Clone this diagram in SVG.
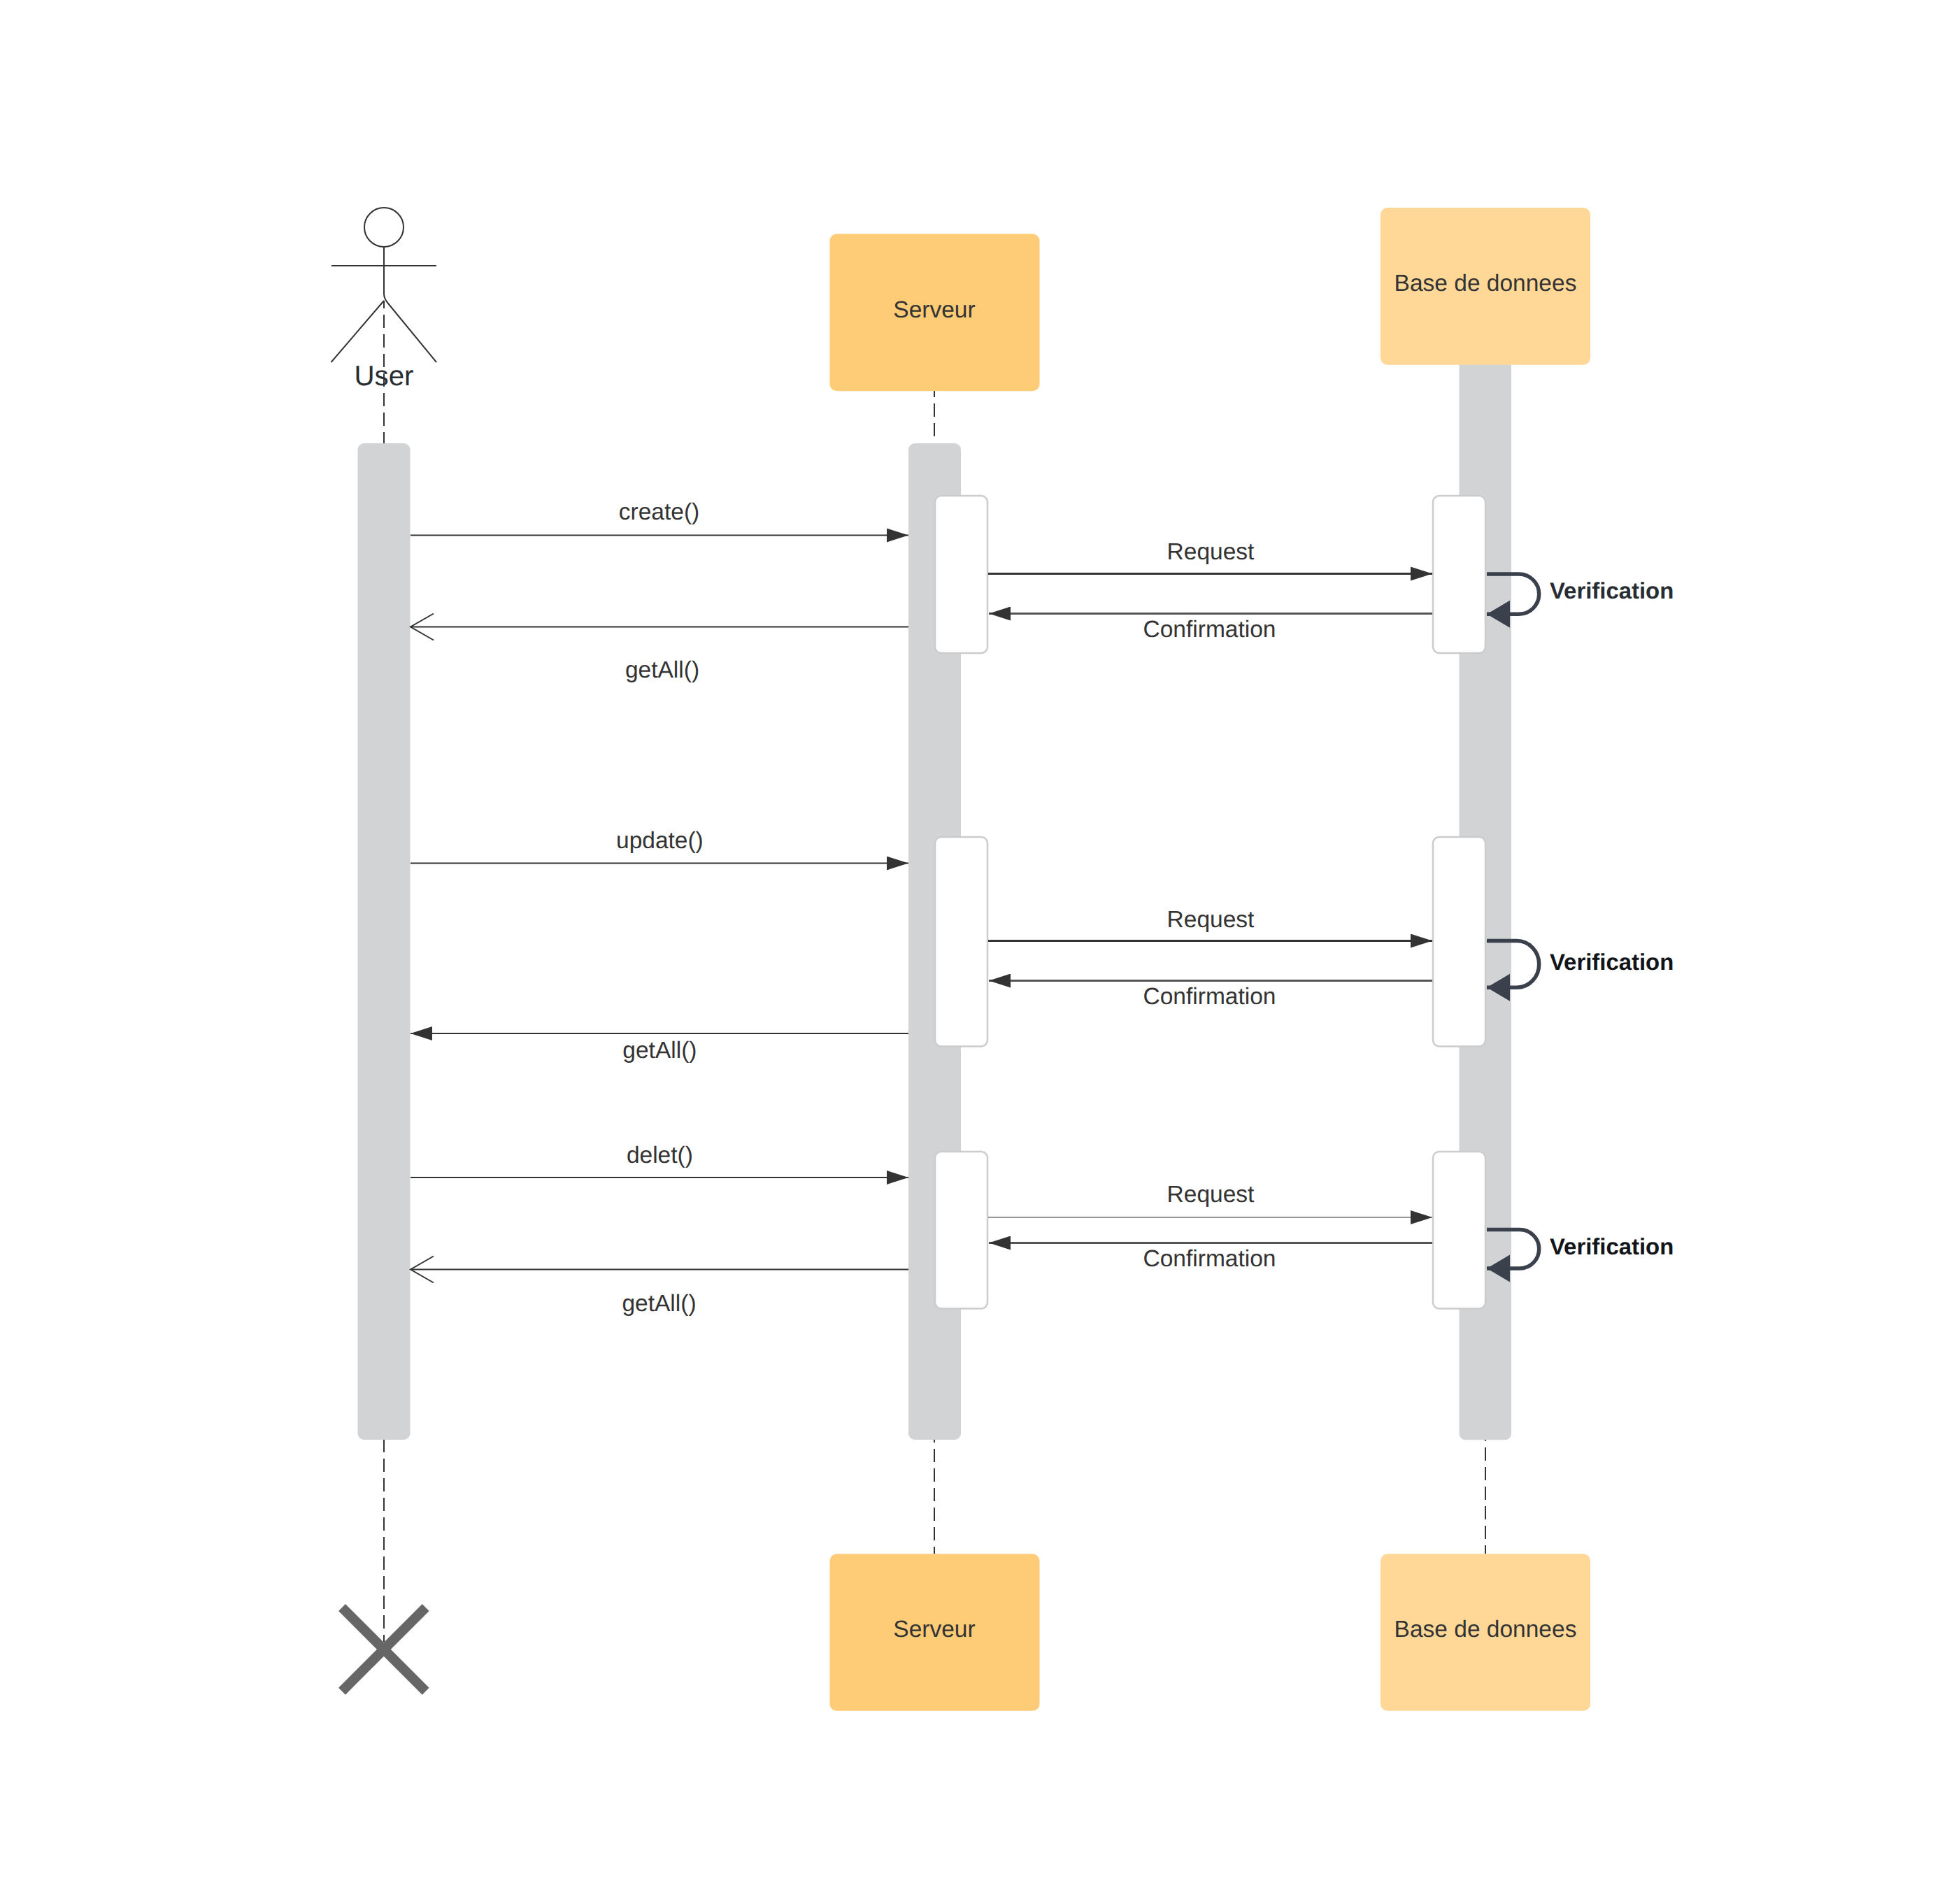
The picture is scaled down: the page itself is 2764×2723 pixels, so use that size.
<svg xmlns="http://www.w3.org/2000/svg" width="2764" height="2723" viewBox="0 0 2764 2723">
<style>
text{font-family:"Liberation Sans",Arial,sans-serif;font-size:33.5px;fill:#333;text-anchor:middle;text-rendering:geometricPrecision}
.bold{font-weight:700;font-size:32.9px;text-anchor:start;fill:#282c33}
.dark{fill:#111418}
.bar{fill:#d1d3d5}
.act{fill:#fff;stroke:#ccc;stroke-width:2.5}
.head1{fill:#fecb76}
.head2{fill:#ffd897}
.life{stroke:#333;stroke-width:2;stroke-dasharray:19 9;fill:none}
.msg{stroke:#333;stroke-width:2;fill:none}
.msgb{stroke:#333;stroke-width:3;fill:none}
.msgc{stroke:#555;stroke-width:3;fill:none}
.loop{stroke:#3a414c;stroke-width:5.5;fill:none}
.stick{stroke:#333;stroke-width:2;fill:none}
</style>
<defs>
<marker id="solidE" markerUnits="userSpaceOnUse" markerWidth="32" markerHeight="20" refX="31" refY="10" orient="auto"><path d="M0 0L31 10L0 20Z" fill="#333"/></marker>
<marker id="openE" markerUnits="userSpaceOnUse" markerWidth="36" markerHeight="42" refX="34" refY="21" orient="auto"><path d="M1 2L34 21L1 40" fill="none" stroke="#333" stroke-width="2"/></marker>
<marker id="loopE" markerUnits="userSpaceOnUse" markerWidth="34" markerHeight="40" refX="33" refY="20" orient="auto"><path d="M0 0.5L33 20L0 39.5Z" fill="#3a414c"/></marker>
</defs>
<rect width="2764" height="2723" fill="#fff"/>
<g id="lifelines">
<path class="life" style="stroke-dashoffset:8" d="M549 430V634"/>
<path class="life" style="stroke-dashoffset:1" d="M549 2059V2348"/>
<path class="life" style="stroke-dashoffset:10" d="M1336 559V625"/>
<path class="life" style="stroke-dashoffset:15" d="M1336 2059V2222"/>
<path class="life" style="stroke-dashoffset:17" d="M2124 2059V2222"/>
</g>
<g id="bar-user"><rect class="bar" x="511.5" y="634" width="75" height="1425" rx="9"/></g>
<g id="bar-server"><rect class="bar" x="1299" y="634" width="75" height="1425" rx="9"/></g>
<g id="bar-db"><rect class="bar" x="2086.5" y="500" width="74.5" height="1559.3" rx="9"/></g>
<g id="act-server-1"><rect class="act" x="1337" y="709" width="75" height="225" rx="9"/></g>
<g id="act-db-1"><rect class="act" x="2049" y="709" width="75" height="225" rx="9"/></g>
<g id="act-server-2"><rect class="act" x="1337" y="1197" width="75" height="299.5" rx="9"/></g>
<g id="act-db-2"><rect class="act" x="2049" y="1197" width="75" height="299.5" rx="9"/></g>
<g id="act-server-3"><rect class="act" x="1337" y="1647" width="75" height="224.5" rx="9"/></g>
<g id="act-db-3"><rect class="act" x="2049" y="1647" width="75" height="224.5" rx="9"/></g>
<g id="user">
<circle class="stick" cx="549" cy="325" r="28"/>
<path class="stick" d="M549 353V420Q549 427 555 434L624 518M549 430L473.5 518M474 380H624"/>
<text x="549" y="551" style="font-size:40.3px;fill:#282c33">User</text>
</g>
<g id="server-top"><rect class="head1" x="1186.5" y="334.5" width="300" height="224.7" rx="10"/><text x="1336" y="453.5">Serveur</text></g>
<g id="db-top"><rect class="head2" x="1974" y="297" width="300" height="224.7" rx="10"/><text x="2124" y="416">Base de donnees</text></g>
<g id="server-bottom"><rect class="head1" x="1186.5" y="2222.2" width="300" height="224.6" rx="10"/><text x="1336" y="2341">Serveur</text></g>
<g id="db-bottom"><rect class="head2" x="1974" y="2222.2" width="300" height="224.6" rx="10"/><text x="2124" y="2341">Base de donnees</text></g>
<g id="destroy"><path d="M489 2299L608.7 2418.7M608.7 2299L489 2418.7" stroke="#666" stroke-width="14" fill="none"/></g>
<g id="connectors">
<line class="msg" x1="587" y1="765.5" x2="1299" y2="765.5" marker-end="url(#solidE)"/>
<line class="msg" x1="1299" y1="896.5" x2="587" y2="896.5" marker-end="url(#openE)"/>
<line class="msgb" x1="1413" y1="820.5" x2="2048" y2="820.5" marker-end="url(#solidE)"/>
<line class="msgc" x1="2048" y1="877.5" x2="1414" y2="877.5" marker-end="url(#solidE)"/>
<path class="loop" d="M2126 821H2172A28.7 28.6 0 0 1 2172 878.2H2126" marker-end="url(#loopE)"/>
<line class="msg" x1="587" y1="1234.5" x2="1299" y2="1234.5" marker-end="url(#solidE)"/>
<line class="msgb" x1="1413" y1="1345.5" x2="2048" y2="1345.5" marker-end="url(#solidE)"/>
<line class="msgc" x1="2048" y1="1402.5" x2="1414" y2="1402.5" marker-end="url(#solidE)"/>
<path class="loop" d="M2126 1345.5H2169A31.7 33.4 0 0 1 2169 1412.3H2126" marker-end="url(#loopE)"/>
<line class="msg" x1="1299" y1="1478" x2="587" y2="1478" marker-end="url(#solidE)"/>
<line class="msg" x1="587" y1="1684" x2="1299" y2="1684" marker-end="url(#solidE)"/>
<line class="msg" style="stroke-width:1.2" x1="1413" y1="1741" x2="2048" y2="1741" marker-end="url(#solidE)"/>
<line class="msgc" x1="2048" y1="1777.5" x2="1414" y2="1777.5" marker-end="url(#solidE)"/>
<path class="loop" d="M2126 1758.5H2173A27.7 27.75 0 0 1 2173 1814H2126" marker-end="url(#loopE)"/>
<line class="msg" x1="1299" y1="1815.5" x2="587" y2="1815.5" marker-end="url(#openE)"/>
</g>
<g id="labels">
<text x="942.5" y="743">create()</text>
<text x="947" y="968.5">getAll()</text>
<text x="1731" y="800">Request</text>
<text x="1729.5" y="910.5">Confirmation</text>
<text class="bold" x="2216" y="856">Verification</text>
<text x="943.4" y="1212.5">update()</text>
<text x="1731" y="1326">Request</text>
<text x="1729.5" y="1436">Confirmation</text>
<text class="bold dark" x="2216" y="1386.8">Verification</text>
<text x="943.4" y="1513">getAll()</text>
<text x="943.4" y="1663">delet()</text>
<text x="1731" y="1719">Request</text>
<text x="1729.5" y="1811">Confirmation</text>
<text class="bold dark" x="2216" y="1794">Verification</text>
<text x="942.5" y="1875">getAll()</text>
</g>
</svg>
